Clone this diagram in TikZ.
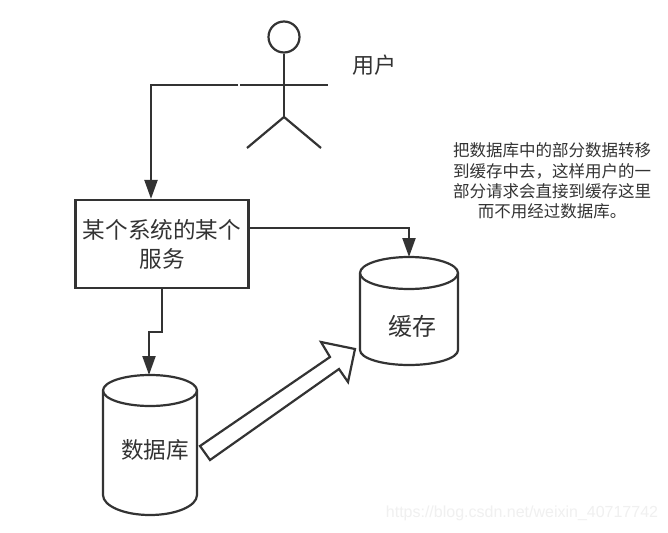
\documentclass[tikz,border=0pt]{standalone}
\usepackage{fontspec}
\setmainfont{Noto Sans CJK SC}
\newfontfamily\wmfont{Liberation Sans}
\usetikzlibrary{arrows.meta}
\definecolor{ink}{HTML}{333333}
\tikzset{
  line/.style={draw=ink,line width=2.2pt},
  conn/.style={line,-{Triangle[length=19pt,width=13pt]},line join=miter},
  label/.style={text=ink,inner sep=0pt,align=center},
  big/.style={label,font=\fontsize{22.6}{29}\selectfont},
  note/.style={label,font=\fontsize{16.5}{20.3}\selectfont},
  cylbox/.style={inner sep=0pt,outer sep=0pt,minimum width=#1},
}
\newcommand{\drawcyl}[3]{% name, ellipse y radius, bottom y radius
  \draw[line]
    ([yshift=-#2pt]#1.north west) arc[start angle=180,end angle=360,x radius=0.5*(\csname cylw#1\endcsname),y radius=#2]
    -- ([yshift=#3pt]#1.south east) arc[start angle=0,end angle=180,x radius=0.5*(\csname cylw#1\endcsname),y radius=#3]
    -- cycle;
  \draw[line] ([yshift=-#2pt]#1.north west) arc[start angle=180,end angle=0,x radius=0.5*(\csname cylw#1\endcsname),y radius=#2];
}
\begin{document}
\begin{tikzpicture}[x=1pt,y=-1pt]
\useasboundingbox (0,0) rectangle (668,532);
\fill[white] (0,0) rectangle (668,532);

% actor
\node[circle,draw=ink,line width=2.2pt,minimum size=31pt,inner sep=0pt] (head) at (284,37) {};
\coordinate (hip) at (284,117);
\coordinate (armL) at (240,85);
\coordinate (armR) at (328,85);
\coordinate (legL) at (247,148);
\coordinate (legR) at (321,148);
\coordinate (armEnd) at (238,85);
\draw[line] (head.south) -- (hip);
\draw[line] (armL) -- (armR);
\draw[line] (legL) -- (hip) -- (legR);
\node[label,font=\fontsize{22}{26}\selectfont] (user) at (374,65) {用户};

% service box
\node[line,big,minimum width=173pt,minimum height=88pt,xshift=-1pt] (svc) at (163,244) {某个系统的某个\\服务};

% cylinders
\def\cylwcache{98}
\node[cylbox=98pt,minimum height=108pt] (cache) at (409,311) {};
\drawcyl{cache}{16}{15}
\node[label,font=\fontsize{24}{28}\selectfont] (cachetxt) at (412,326) {缓存};

\def\cylwdb{94}
\node[cylbox=94pt,minimum height=140pt] (db) at (150,445) {};
\drawcyl{db}{15.5}{20}
\node[label,font=\fontsize{22.6}{28}\selectfont] (dbtxt) at (155,450) {数据库};

% connectors
\draw[conn] (armEnd) -| (svc.north -| 151,0);
\draw[conn] (svc.east |- 0,228) -| (cache.north);
\coordinate (mid1) at (162,332);
\coordinate (mid2) at (149,332);
\draw[conn] (svc.south -| mid1) -- (mid1) -- (mid2) -- (db.north -| mid2);

% big arrow
\draw[draw=ink,line width=2.2pt,fill=white,line join=miter]
  (200,446) -- (330,357) -- (321,342) -- (355,349) -- (348,382) -- (339,369) -- (210,460) -- cycle;

% note
\node[note] (notetxt) at (552,181) {把数据库中的部分数据转移\\到缓存中去，这样用户的一\\部分请求会直接到缓存这里\\而不用经过数据库。};

% watermark
\node[inner sep=0pt,text=black!6,font=\wmfont\fontsize{16}{20}\selectfont] (wm) at (522,513) {https://blog.csdn.net/weixin\_40717742};
\end{tikzpicture}
\end{document}
